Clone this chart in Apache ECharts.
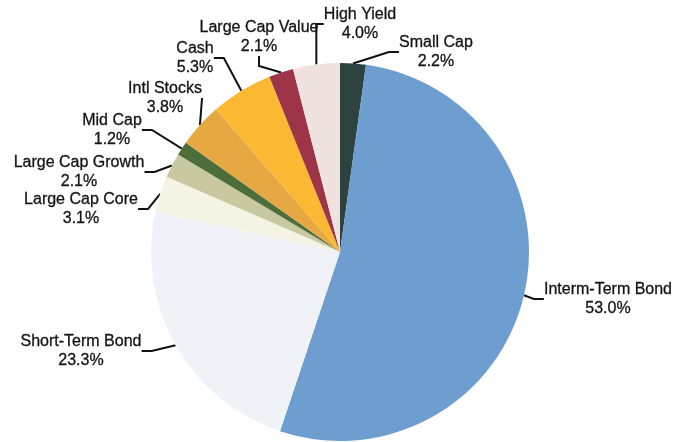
<!DOCTYPE html>
<html>
<head>
<meta charset="utf-8">
<script src="https://cdn.jsdelivr.net/npm/echarts@6/dist/echarts.min.js"></script>
<style>
html,body{margin:0;padding:0;background:#fff;}
#chart{width:682px;height:442px;}
</style>
</head>
<body>
<div id="chart"></div>
<script>
// Data (clockwise from 12 o'clock)
const categories = ['Small Cap', 'Interm-Term Bond', 'Short-Term Bond', 'Large Cap Core', 'Large Cap Growth', 'Mid Cap', 'Intl Stocks', 'Cash', 'Large Cap Value', 'High Yield'];
const values = [2.2, 53.0, 23.3, 3.1, 2.1, 1.2, 3.8, 5.3, 2.1, 4.0];

// Styles
const colors = ['#2e4340', '#6e9ecf', '#f0f2f7', '#f5f3e3', '#c9c9a1', '#4d6d3a', '#e6a843', '#fbb833', '#9d3448', '#efe2df'];
// Label anchor positions (layout only)
const labelPos = [[436, 52], [608, 299], [81, 351], [81, 209], [79, 172], [112, 130], [165, 98], [195, 58], [259, 37], [360, 24]];

const chart = echarts.init(document.getElementById('chart'));
chart.setOption({
  animation: false,
  series: [{
    type: 'pie',
    center: [340, 252],
    radius: [0, 189],
    startAngle: 90,
    clockwise: true,
    data: categories.map((c, i) => ({
      name: c,
      value: values[i],
      itemStyle: { color: colors[i] }
    })),
    itemStyle: { borderWidth: 0 },
    label: {
      show: true,
      formatter: p => p.name + '\n' + p.value.toFixed(1) + '%',
      fontFamily: 'Arial, Liberation Sans, sans-serif',
      fontSize: 16,
      lineHeight: 19,
      color: '#141414',
      textBorderColor: '#141414',
      textBorderWidth: 0.3,
      overflow: 'none',
      edgeDistance: 0,
      bleedMargin: 0,
      align: 'center'
    },
    labelLine: {
      show: true,
      length: 10,
      length2: 10,
      lineStyle: { color: '#111', width: 2 }
    },
    labelLayout: function (p) {
      const pos = labelPos[p.dataIndex];
      return { x: pos[0], y: pos[1], align: 'center', verticalAlign: 'middle' };
    },
    emphasis: { disabled: true }
  }]
});
</script>
</body>
</html>
